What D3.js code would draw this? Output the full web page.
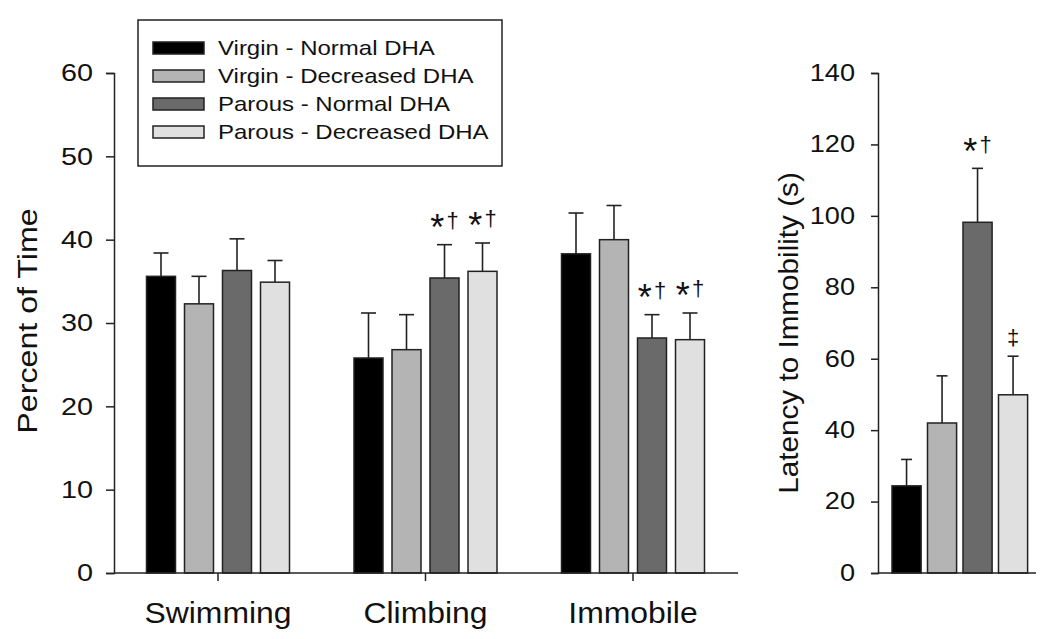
<!DOCTYPE html>
<html>
<head>
<meta charset="utf-8">
<script src="https://cdn.jsdelivr.net/npm/d3@7"></script>
<style>
  body { margin: 0; background: #fff; }
  svg { font-family: 'Liberation Sans', Arial, sans-serif; }
</style>
</head>
<body>
<svg id="chart" width="1050" height="639"></svg>
<script>
// Groups and series
const categories = ['Swimming', 'Climbing', 'Immobile'];
const seriesNames = ['Virgin - Normal DHA', 'Virgin - Decreased DHA', 'Parous - Normal DHA', 'Parous - Decreased DHA'];
const seriesColors = ['#000000', '#b4b4b4', '#6a6a6a', '#e0e0e0'];

// Percent of time, one array per series (Swimming, Climbing, Immobile)
const virginNormal = [35.6, 25.8, 38.3];
const virginNormalErr = [2.8, 5.4, 4.9];
const virginDecreased = [32.3, 26.8, 40.0];
const virginDecreasedErr = [3.3, 4.2, 4.1];
const parousNormal = [36.3, 35.4, 28.2];
const parousNormalErr = [3.8, 4.0, 2.8];
const parousDecreased = [34.9, 36.2, 28.0];
const parousDecreasedErr = [2.6, 3.4, 3.2];
// significance marks (per series, per category)
const percentMarks = [['', '', ''], ['', '', ''], ['', '*†', '*†'], ['', '*†', '*†']];

// Latency to immobility (s), one value per series
const latency = [24.4, 42.0, 98.2, 49.9];
const latencyErr = [7.4, 13.2, 15.1, 10.8];
const latencyMarks = ['', '', '*†', '‡'];

const percentTicks = [0, 10, 20, 30, 40, 50, 60];
const latencyTicks = [0, 20, 40, 60, 80, 100, 120, 140];

const svg = d3.select('#chart');
const FONT = "'Liberation Sans', Arial, sans-serif";

const percentValues = [virginNormal, virginDecreased, parousNormal, parousDecreased];
const percentErrors = [virginNormalErr, virginDecreasedErr, parousNormalErr, parousDecreasedErr];

// the figure is a bit wider than tall, so horizontal text is stretched
function stretch(sel, s) {
    sel.attr('transform', function () {
        const x = +d3.select(this).attr('x') || 0;
        return `translate(${x},0) scale(${s},1) translate(${-x},0)`;
    });
}

function drawMark(g, x, y, mark) {
    if (!mark) return;
    const t = g.append('text').attr('x', x).attr('y', y).attr('text-anchor', 'middle').attr('fill', '#111');
    for (const ch of mark) {
        if (ch === '*') {
            t.append('tspan').attr('font-size', 36).attr('dy', 12).text('*');
            t.append('tspan').attr('font-size', 8).attr('dy', -12).text(' ');
        } else {
            t.append('tspan').attr('font-size', 22).text(ch);
        }
    }
}

function drawBars(g, data, yScale, capW) {
    g.selectAll('.err')
        .data(data)
        .join('g')
        .each(function (d) {
            const e = d3.select(this);
            const cx = d.x + d.w / 2;
            e.append('line').attr('x1', cx).attr('x2', cx)
                .attr('y1', yScale(d.v)).attr('y2', yScale(d.v + d.e))
                .attr('stroke', '#222').attr('stroke-width', 1.6);
            e.append('line').attr('x1', cx - capW / 2).attr('x2', cx + capW / 2)
                .attr('y1', yScale(d.v + d.e)).attr('y2', yScale(d.v + d.e))
                .attr('stroke', '#222').attr('stroke-width', 1.6);
        });
    g.selectAll('.bar')
        .data(data)
        .join('rect')
        .attr('x', (d) => d.x)
        .attr('width', (d) => d.w)
        .attr('y', (d) => yScale(d.v))
        .attr('height', (d) => yScale(0) - yScale(d.v))
        .attr('fill', (d) => d.color)
        .attr('stroke', '#222')
        .attr('stroke-width', 1.5);
}

// ---------- Left chart ----------
const yLeft = d3.scaleLinear().domain([0, 60]).range([573, 73]);
const xGroup = d3.scaleBand().domain(categories).range([114.25, 736.75]);
const xSeries = d3.scaleBand().domain(seriesNames).range([0, 143]).paddingInner(0.237);

const left = svg.append('g');
const leftBars = [];
categories.forEach((c, ci) => {
    const start = xGroup(c) + xGroup.bandwidth() / 2 - 71.5;
    seriesNames.forEach((s, si) => {
        leftBars.push({
            x: start + xSeries(s), w: xSeries.bandwidth(),
            v: percentValues[si][ci], e: percentErrors[si][ci],
            color: seriesColors[si], mark: percentMarks[si][ci]
        });
    });
});
drawBars(left, leftBars, yLeft, 15);
leftBars.forEach((d) => drawMark(left, d.x + d.w / 2, yLeft(d.v + d.e) - 17, d.mark));

const yAxisL = left.append('g').attr('transform', 'translate(114,0)')
    .call(d3.axisLeft(yLeft).tickValues(percentTicks).tickSize(8).tickPadding(13));
const xAxisL = left.append('g').attr('transform', 'translate(0,573)')
    .call(d3.axisBottom(xGroup).tickSize(8).tickPadding(21));
xAxisL.select('.domain').attr('d', 'M114,0H738');
[yAxisL, xAxisL].forEach((a) => {
    a.selectAll('path, line').attr('stroke', '#222').attr('stroke-width', 1.5);
    a.selectAll('text').attr('fill', '#111').attr('font-family', FONT);
});
yAxisL.selectAll('text').attr('font-size', 24).call(stretch, 1.2);
xAxisL.selectAll('text').attr('font-size', 29).call(stretch, 1.1);

left.append('text')
    .attr('transform', 'translate(37,321) rotate(-90) scale(1.15,1)')
    .attr('text-anchor', 'middle').attr('font-size', 28).attr('fill', '#111')
    .text('Percent of Time');

// Legend
const legend = svg.append('g');
legend.append('rect').attr('x', 138).attr('y', 20).attr('width', 364).attr('height', 146)
    .attr('fill', '#fff').attr('stroke', '#222').attr('stroke-width', 1.5);
seriesNames.forEach((s, i) => {
    const cy = 48 + i * 28;
    legend.append('rect').attr('x', 153).attr('y', cy - 6).attr('width', 51).attr('height', 12)
        .attr('fill', seriesColors[i]).attr('stroke', '#222').attr('stroke-width', 1.5);
    legend.append('text').attr('x', 218).attr('y', cy + 7).attr('font-size', 20).attr('fill', '#111')
        .text(s).call(stretch, 1.2);
});

// ---------- Right chart ----------
const yRight = d3.scaleLinear().domain([0, 140]).range([573, 73]);
const xRight = d3.scaleBand().domain(seriesNames).range([892, 1027.6]).paddingInner(0.18);
const right = svg.append('g');
const rightBars = seriesNames.map((s, i) => ({
    x: xRight(s), w: xRight.bandwidth(), v: latency[i], e: latencyErr[i],
    color: seriesColors[i], mark: latencyMarks[i]
}));
drawBars(right, rightBars, yRight, 11);
rightBars.forEach((d) => drawMark(right, d.x + d.w / 2, yRight(d.v + d.e) - (d.mark === '‡' ? 11 : 16), d.mark));

const yAxisR = right.append('g').attr('transform', 'translate(878,0)')
    .call(d3.axisLeft(yRight).tickValues(latencyTicks).tickSize(7).tickPadding(16));
yAxisR.selectAll('path, line').attr('stroke', '#222').attr('stroke-width', 1.5);
yAxisR.selectAll('text').attr('font-size', 23).attr('fill', '#111').attr('font-family', FONT)
    .call(stretch, 1.18);
right.append('line').attr('x1', 878).attr('x2', 1036).attr('y1', 573).attr('y2', 573)
    .attr('stroke', '#222').attr('stroke-width', 1.5);

right.append('text')
    .attr('transform', 'translate(798,333) rotate(-90) scale(1.06,1)')
    .attr('text-anchor', 'middle').attr('font-size', 28).attr('fill', '#111')
    .text('Latency to Immobility (s)');
</script>
</body>
</html>
